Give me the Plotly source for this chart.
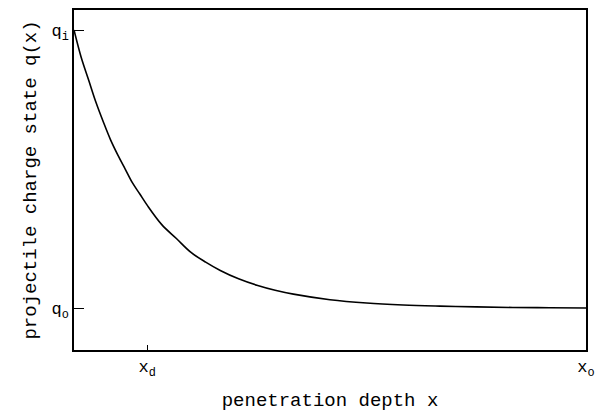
import plotly.graph_objects as go

# Penetration depth (in units of the decay length x_d) and normalised charge state
depth = [0, 0.1, 0.2, 0.3, 0.4, 0.5, 0.6, 0.7, 0.8, 0.9, 1.0, 1.2, 1.4, 1.6,
         1.8, 2.0, 2.25, 2.5, 2.75, 3.0, 3.5, 4.0, 4.5, 5.0, 5.5, 6.0, 6.5, 7.0]
charge = [1.0, 0.90, 0.82, 0.74, 0.67, 0.605, 0.55, 0.50, 0.45, 0.41, 0.37,
          0.30, 0.25, 0.20, 0.165, 0.135, 0.105, 0.082, 0.064, 0.05, 0.03,
          0.018, 0.011, 0.007, 0.004, 0.002, 0.001, 0.0]

x_tick_vals = [1, 7]
x_tick_text = ["x<sub>d</sub>", "x<sub>o</sub>"]
y_tick_vals = [0, 1]
y_tick_text = ["q<sub>o</sub>", "q<sub>i</sub>"]

font_family = "Liberation Mono"

fig = go.Figure(
    go.Scatter(
        x=depth, y=charge, mode="lines",
        line=dict(color="black", width=1.6, shape="spline", smoothing=1.0),
        hoverinfo="skip",
    )
)

fig.update_layout(
    width=602, height=412,
    margin=dict(l=74, r=16, t=10, b=62),
    paper_bgcolor="white", plot_bgcolor="white",
    showlegend=False,
    font=dict(family=font_family, size=16, color="black"),
    xaxis=dict(
        range=[0, 7], showgrid=False, zeroline=False,
        showline=True, mirror=True, linecolor="black", linewidth=1.6,
        tickmode="array", tickvals=x_tick_vals, ticktext=x_tick_text,
        ticks="inside", ticklen=5, tickwidth=1.2, tickcolor="black",
        tickfont=dict(size=17),
        title=dict(text="penetration depth x", standoff=18),
        automargin=False,
    ),
    yaxis=dict(
        range=[-0.151, 1.072], showgrid=False, zeroline=False,
        showline=True, mirror=True, linecolor="black", linewidth=1.6,
        tickmode="array", tickvals=y_tick_vals, ticktext=y_tick_text,
        ticks="inside", ticklen=10, tickwidth=1.2, tickcolor="black",
        tickfont=dict(size=17),
        title=dict(text="projectile charge state q(x)", standoff=10),
        automargin=False,
    ),
)

fig.write_html("out.html")
